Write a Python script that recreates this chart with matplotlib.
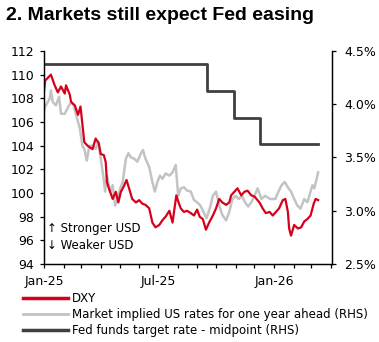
import pandas as pd
import matplotlib
matplotlib.use('Agg')
import matplotlib.pyplot as plt
import matplotlib.dates as mdates
from matplotlib.ticker import FuncFormatter, FixedLocator
from matplotlib.lines import Line2D

plt.rcParams['font.family'] = ['DejaVu Sans']

#DXY (LHS)
dxy_dates = ['2025-01-01', '2025-01-03', '2025-01-12', '2025-01-18', '2025-01-23', '2025-01-28',
             '2025-02-03', '2025-02-05', '2025-02-11', '2025-02-13', '2025-02-19', '2025-02-24',
             '2025-02-28', '2025-03-06', '2025-03-11', '2025-03-19', '2025-03-24', '2025-03-29',
             '2025-04-01', '2025-04-06', '2025-04-09', '2025-04-11', '2025-04-14', '2025-04-20',
             '2025-04-25', '2025-04-29', '2025-05-03', '2025-05-08', '2025-05-12', '2025-05-16',
             '2025-05-21', '2025-05-27', '2025-06-01', '2025-06-06', '2025-06-11', '2025-06-17',
             '2025-06-22', '2025-06-27', '2025-07-03', '2025-07-08', '2025-07-13', '2025-07-19',
             '2025-07-24', '2025-07-30', '2025-08-02', '2025-08-06', '2025-08-11', '2025-08-16',
             '2025-08-22', '2025-08-27', '2025-09-01', '2025-09-05', '2025-09-10', '2025-09-15',
             '2025-09-20', '2025-09-26', '2025-10-01', '2025-10-06', '2025-10-11', '2025-10-17',
             '2025-10-22', '2025-10-25', '2025-10-30', '2025-11-04', '2025-11-10', '2025-11-15',
             '2025-11-20', '2025-11-26', '2025-12-01', '2025-12-09', '2025-12-14', '2025-12-19',
             '2025-12-25', '2025-12-30', '2026-01-04', '2026-01-09', '2026-01-15', '2026-01-19',
             '2026-01-23', '2026-01-25', '2026-01-28', '2026-02-02', '2026-02-08', '2026-02-13',
             '2026-02-18', '2026-02-23', '2026-02-28', '2026-03-05', '2026-03-08', '2026-03-12']
dxy_vals = [108.6, 109.5, 110.0, 109.1, 108.5, 109.0,
            108.4, 109.1, 108.3, 107.7, 107.4, 106.6,
            107.3, 104.3, 104.0, 103.7, 104.6, 104.2,
            103.3, 103.2, 102.6, 100.9, 100.4, 99.5,
            100.1, 99.2, 100.1, 100.6, 101.1, 100.4,
            99.5, 99.2, 99.4, 99.1, 99.0, 98.7,
            97.5, 97.1, 97.3, 97.7, 98.0, 98.5,
            97.5, 99.8, 99.3, 98.7, 98.4, 98.5,
            98.3, 98.1, 98.6, 98.0, 97.8, 96.9,
            97.5, 98.1, 98.7, 99.5, 99.2, 99.0,
            99.2, 99.8, 100.1, 100.4, 99.8, 100.1,
            100.2, 99.8, 99.7, 99.2, 98.7, 98.3,
            98.4, 98.1, 98.4, 98.7, 99.4, 99.5,
            98.4, 97.0, 96.4, 97.3, 97.0, 97.1,
            97.6, 97.8, 98.1, 99.1, 99.5, 99.4]

#Market implied US rates one year ahead (RHS, %)
mkt_dates = ['2025-01-01', '2025-01-04', '2025-01-10', '2025-01-12', '2025-01-15', '2025-01-20',
             '2025-01-25', '2025-01-28', '2025-02-03', '2025-02-08', '2025-02-13', '2025-02-17',
             '2025-02-21', '2025-02-27', '2025-03-03', '2025-03-06', '2025-03-10', '2025-03-14',
             '2025-03-19', '2025-03-24', '2025-03-28', '2025-04-01', '2025-04-05', '2025-04-08',
             '2025-04-11', '2025-04-16', '2025-04-20', '2025-04-24', '2025-04-28', '2025-05-02',
             '2025-05-06', '2025-05-11', '2025-05-15', '2025-05-19', '2025-05-24', '2025-05-29',
             '2025-06-04', '2025-06-07', '2025-06-11', '2025-06-17', '2025-06-22', '2025-06-26',
             '2025-06-30', '2025-07-04', '2025-07-08', '2025-07-13', '2025-07-19', '2025-07-24',
             '2025-07-29', '2025-08-02', '2025-08-06', '2025-08-11', '2025-08-16', '2025-08-22',
             '2025-08-27', '2025-09-01', '2025-09-06', '2025-09-11', '2025-09-16', '2025-09-21',
             '2025-09-26', '2025-10-01', '2025-10-06', '2025-10-11', '2025-10-17', '2025-10-22',
             '2025-10-27', '2025-11-01', '2025-11-06', '2025-11-11', '2025-11-16', '2025-11-21',
             '2025-11-26', '2025-12-01', '2025-12-06', '2025-12-12', '2025-12-18', '2025-12-26',
             '2026-01-03', '2026-01-08', '2026-01-13', '2026-01-18', '2026-01-23', '2026-01-28',
             '2026-02-02', '2026-02-07', '2026-02-12', '2026-02-18', '2026-02-23', '2026-02-28',
             '2026-03-03', '2026-03-06', '2026-03-12']
mkt_vals = [3.94, 3.99, 4.05, 4.13, 4.02, 3.99,
            4.07, 3.91, 3.91, 3.97, 4.02, 3.99,
            3.90, 3.77, 3.61, 3.58, 3.47, 3.61,
            3.61, 3.58, 3.65, 3.49, 3.33, 3.18,
            3.33, 3.18, 3.24, 3.05, 3.11, 3.21,
            3.27, 3.49, 3.54, 3.50, 3.49, 3.46,
            3.54, 3.57, 3.49, 3.41, 3.27, 3.18,
            3.27, 3.33, 3.30, 3.35, 3.33, 3.36,
            3.43, 3.14, 3.21, 3.22, 3.19, 3.18,
            3.10, 3.08, 3.05, 2.99, 2.93, 3.02,
            3.14, 3.18, 3.05, 2.96, 2.91, 2.99,
            3.11, 3.14, 3.11, 3.14, 3.08, 3.04,
            3.08, 3.14, 3.21, 3.11, 3.14, 3.11,
            3.11, 3.18, 3.24, 3.27, 3.22, 3.18,
            3.11, 3.05, 3.02, 3.11, 3.08, 3.18,
            3.24, 3.21, 3.36]

#Fed funds target rate midpoint (RHS, %)
fed_dates = ['2025-01-01', '2025-09-17', '2025-10-29', '2025-12-10', '2026-03-12']
fed_vals = [4.375, 4.125, 3.875, 3.625, 3.625]

dxy = pd.Series(dxy_vals, index=pd.to_datetime(dxy_dates))
mkt = pd.Series(mkt_vals, index=pd.to_datetime(mkt_dates))
fed = pd.Series(fed_vals, index=pd.to_datetime(fed_dates))

red = '#D7001B'
grey = '#C3C3C3'
dark = '#404040'

fig = plt.figure(figsize=(3.79, 3.42), dpi=100)
ax = fig.add_axes([0.116, 0.228, 0.76, 0.623])
ax2 = ax.twinx()

ax2.plot(fed.index, fed.values, color=dark, lw=2.0, drawstyle='steps-post')
ax2.plot(mkt.index, mkt.values, color=grey, lw=1.8)
ax.plot(dxy.index, dxy.values, color=red, lw=1.6)

ax.set_zorder(ax2.get_zorder() + 1)
ax.patch.set_visible(False)

ax.set_xlim(pd.Timestamp('2025-01-01'), pd.Timestamp('2026-04-03'))
ax.set_ylim(94, 112)
ax.set_yticks(range(94, 113, 2))
ax2.set_ylim(2.5, 4.5)
ax2.set_yticks([2.5, 3.0, 3.5, 4.0, 4.5])
ax2.yaxis.set_major_formatter(FuncFormatter(lambda y, _: '{:.1f}%'.format(y)))

ax.xaxis.set_major_locator(FixedLocator(mdates.date2num(pd.to_datetime(['2025-01-01', '2025-07-01', '2026-01-01']))))
ax.xaxis.set_major_formatter(mdates.DateFormatter('%b-%y'))
ax.xaxis.set_minor_locator(mdates.MonthLocator())

for a in (ax, ax2):
    a.spines['top'].set_visible(False)
    for s in a.spines.values():
        s.set_linewidth(0.9)
    a.tick_params(which='both', direction='out', length=3, width=0.9, labelsize=9)
ax.tick_params(axis='x', pad=5)
ax.tick_params(axis='y', pad=4)
ax2.tick_params(axis='y', pad=6)

ax.text(0.01, 0.169, '\u2191 Stronger USD', transform=ax.transAxes, fontsize=8.5, va='center')
ax.text(0.01, 0.085, '\u2193 Weaker USD', transform=ax.transAxes, fontsize=8.5, va='center')

fig.text(0.016, 0.955, '2. Markets still expect Fed easing', fontsize=14, fontweight='bold',
         family='Liberation Sans', va='center')

handles = [Line2D([], [], color=red, lw=2.5),
           Line2D([], [], color=grey, lw=2.0),
           Line2D([], [], color=dark, lw=2.5)]
labels = ['DXY', 'Market implied US rates for one year ahead (RHS)', 'Fed funds target rate - midpoint (RHS)']
fig.legend(handles, labels, loc='upper left', bbox_to_anchor=(0.061, 0.146), frameon=False,
           fontsize=8.5, handlelength=3.8, handletextpad=0.35, labelspacing=0.25, borderpad=0, borderaxespad=0)

fig.savefig('out.png', dpi=100)
